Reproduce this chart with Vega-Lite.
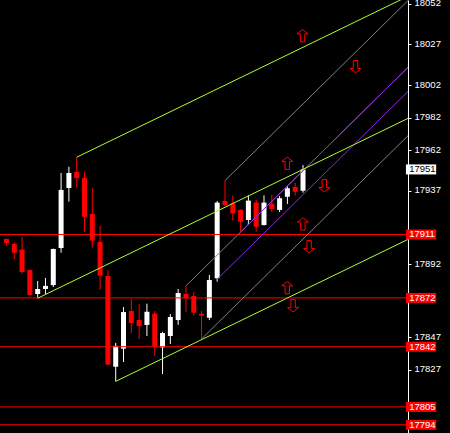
{
 "$schema": "https://vega.github.io/schema/vega-lite/v6.json",
 "width": 408,
 "height": 433,
 "autosize": {"type": "none"},
 "padding": {"left": 0, "top": 0, "right": 42, "bottom": 0},
 "background": "#000000",
 "config": {
  "view": {"stroke": null},
  "axis": {"domainColor": "#FFFFFF", "tickColor": "#FFFFFF", "labelColor": "#FFFFFF", "tickSize": 3, "labelPadding": 3, "labelFont": "Liberation Sans", "labelFontSize": 9.5, "grid": false, "domainWidth": 1, "tickWidth": 1, "tickOffset": -1.5, "labelOffset": -0.8}
 },
 "datasets": {
  "candles": [
   {"i":0,"o":17908.2,"h":17908.5,"l":17904.1,"c":17905.8},
   {"i":1,"o":17905.2,"h":17906.2,"l":17895.9,"c":17899.8},
   {"i":2,"o":17901.7,"h":17909.5,"l":17886.7,"c":17887.9},
   {"i":3,"o":17889.2,"h":17889.4,"l":17873.6,"c":17873.8},
   {"i":4,"o":17874.4,"h":17882.4,"l":17871.8,"c":17877.5},
   {"i":5,"o":17877.5,"h":17884.3,"l":17874.4,"c":17879.4},
   {"i":6,"o":17879.9,"h":17902.3,"l":17878.7,"c":17902.1},
   {"i":7,"o":17902.7,"h":17948.8,"l":17899.8,"c":17938.4},
   {"i":8,"o":17939.6,"h":17952.7,"l":17931.2,"c":17948.8},
   {"i":9,"o":17949.4,"h":17958.5,"l":17940.0,"c":17945.7},
   {"i":10,"o":17945.7,"h":17949.4,"l":17912.7,"c":17921.9},
   {"i":11,"o":17923.6,"h":17939.6,"l":17902.9,"c":17907.2},
   {"i":12,"o":17906.4,"h":17916.2,"l":17877.1,"c":17885.7},
   {"i":13,"o":17885.5,"h":17889.2,"l":17830.8,"c":17831.0},
   {"i":14,"o":17829.7,"h":17844.3,"l":17820.7,"c":17842.5},
   {"i":15,"o":17840.8,"h":17866.4,"l":17832.6,"c":17863.3},
   {"i":16,"o":17863.9,"h":17871.3,"l":17850.4,"c":17856.6},
   {"i":17,"o":17858.4,"h":17868.3,"l":17846.7,"c":17854.7},
   {"i":18,"o":17855.4,"h":17868.5,"l":17848.6,"c":17863.5},
   {"i":19,"o":17862.3,"h":17864.0,"l":17836.3,"c":17842.4},
   {"i":20,"o":17841.6,"h":17851.2,"l":17825.2,"c":17850.4},
   {"i":21,"o":17848.6,"h":17862.1,"l":17843.7,"c":17860.3},
   {"i":22,"o":17858.4,"h":17877.5,"l":17855.4,"c":17875.0},
   {"i":23,"o":17874.4,"h":17879.4,"l":17863.5,"c":17871.8},
   {"i":24,"o":17873.2,"h":17875.6,"l":17861.1,"c":17862.9},
   {"i":25,"o":17862.3,"h":17864.0,"l":17846.8,"c":17861.1},
   {"i":26,"o":17859.8,"h":17886.1,"l":17858.4,"c":17883.0},
   {"i":27,"o":17884.1,"h":17931.6,"l":17882.0,"c":17930.6},
   {"i":28,"o":17931.6,"h":17944.1,"l":17928.5,"c":17929.1},
   {"i":29,"o":17930.2,"h":17934.9,"l":17919.5,"c":17924.0},
   {"i":30,"o":17926.1,"h":17926.4,"l":17912.7,"c":17918.9},
   {"i":31,"o":17919.9,"h":17934.9,"l":17916.8,"c":17931.8},
   {"i":32,"o":17930.6,"h":17932.2,"l":17912.7,"c":17915.8},
   {"i":33,"o":17916.8,"h":17935.1,"l":17916.5,"c":17930.6},
   {"i":34,"o":17929.9,"h":17935.3,"l":17924.6,"c":17926.7},
   {"i":35,"o":17926.1,"h":17934.7,"l":17924.8,"c":17933.3},
   {"i":36,"o":17934.2,"h":17940.8,"l":17929.8,"c":17939.4},
   {"i":37,"o":17940.2,"h":17942.8,"l":17934.9,"c":17937.3},
   {"i":38,"o":17937.9,"h":17953.7,"l":17936.7,"c":17951.0}
  ],
  "lines": [
   {"id":"k1","set":"gray","i":28,"p":17944.1},{"id":"k1","set":"gray","i":60,"p":18095.2},
   {"id":"k2","set":"gray","i":25,"p":17846.8},{"id":"k2","set":"gray","i":60,"p":18012.1},
   {"id":"k3","set":"gray","i":23,"p":17879.4},{"id":"k3","set":"gray","i":60,"p":18054.1},
   {"id":"p1","set":"purple","i":30,"p":17912.5},{"id":"p1","set":"purple","i":60,"p":18054.1},
   {"id":"p2","set":"purple","i":27,"p":17883.5},{"id":"p2","set":"purple","i":60,"p":18039.3},
   {"id":"g1","set":"green","i":9,"p":17958.5},{"id":"g1","set":"green","i":60,"p":18077.4},
   {"id":"g2","set":"green","i":4,"p":17871.8},{"id":"g2","set":"green","i":60,"p":18002.3},
   {"id":"g3","set":"green","i":14,"p":17820.7},{"id":"g3","set":"green","i":60,"p":17927.9}
  ],
  "levels": [
   {"p":17911,"kind":"level"},
   {"p":17872,"kind":"level"},
   {"p":17842,"kind":"level"},
   {"p":17805,"kind":"level"},
   {"p":17794,"kind":"level"},
   {"p":17951,"kind":"bid"}
  ],
  "arrows": [
   {"i":37.94,"p":18033.2,"dir":"up"},
   {"i":44.73,"p":18014.2,"dir":"down"},
   {"i":35.98,"p":17954.8,"dir":"up"},
   {"i":40.73,"p":17941.0,"dir":"down"},
   {"i":37.98,"p":17917.5,"dir":"up"},
   {"i":38.78,"p":17903.5,"dir":"down"},
   {"i":35.98,"p":17878.3,"dir":"up"},
   {"i":36.73,"p":17867.2,"dir":"down"}
  ]
 },
 "layer": [
  {
   "data": {"name": "candles"},
   "mark": {"type": "rule", "strokeWidth": 1},
   "encoding": {
    "x": {"field": "i", "type": "quantitative", "scale": {"domain": [-0.1875, 50.8125], "nice": false, "zero": false}, "axis": null},
    "y": {"field": "l", "type": "quantitative", "scale": {"domain": [17788.95, 18055.17], "nice": false, "zero": false},
          "axis": {"orient": "right", "title": null, "values": [18052, 18027, 18002, 17982, 17962, 17937, 17892, 17847, 17827], "format": "d", "labelOverlap": false, "labelFlush": false}},
    "y2": {"field": "h"},
    "color": {"condition": {"test": "datum.c >= datum.o", "value": "#FFFFFF"}, "value": "#FF0000"}
   }
  },
  {
   "data": {"name": "candles"},
   "mark": {"type": "bar", "orient": "vertical", "width": 5},
   "encoding": {
    "x": {"field": "i", "type": "quantitative", "scale": {"domain": [-0.1875, 50.8125], "nice": false, "zero": false}, "axis": null},
    "y": {"field": "o", "type": "quantitative", "scale": {"domain": [17788.95, 18055.17], "nice": false, "zero": false},
          "axis": {"orient": "right", "title": null, "values": [18052, 18027, 18002, 17982, 17962, 17937, 17892, 17847, 17827], "format": "d", "labelOverlap": false, "labelFlush": false}},
    "y2": {"field": "c"},
    "color": {"condition": {"test": "datum.c >= datum.o", "value": "#FFFFFF"}, "value": "#FF0000"}
   }
  },
  {
   "data": {"name": "levels"},
   "transform": [{"filter": "datum.kind == 'level'"}],
   "mark": {"type": "rule", "strokeWidth": 1, "color": "#FF0000"},
   "encoding": {
    "y": {"field": "p", "type": "quantitative", "scale": {"domain": [17788.95, 18055.17], "nice": false, "zero": false},
          "axis": {"orient": "right", "title": null, "values": [18052, 18027, 18002, 17982, 17962, 17937, 17892, 17847, 17827], "format": "d", "labelOverlap": false, "labelFlush": false}}
   }
  },
  {
   "data": {"name": "lines"},
   "mark": {"type": "line", "strokeWidth": 1, "clip": true},
   "encoding": {
    "x": {"field": "i", "type": "quantitative", "scale": {"domain": [-0.1875, 50.8125], "nice": false, "zero": false}, "axis": null},
    "y": {"field": "p", "type": "quantitative", "scale": {"domain": [17788.95, 18055.17], "nice": false, "zero": false},
          "axis": {"orient": "right", "title": null, "values": [18052, 18027, 18002, 17982, 17962, 17937, 17892, 17847, 17827], "format": "d", "labelOverlap": false, "labelFlush": false}},
    "detail": {"field": "id"},
    "order": {"field": "i"},
    "color": {"field": "set", "type": "nominal", "scale": {"domain": ["gray", "purple", "green"], "range": ["#808080", "#8A2BE2", "#ADFF2F"]}, "legend": null}
   }
  },
  {
   "data": {"name": "arrows"},
   "mark": {"type": "point", "filled": false, "strokeWidth": 1, "opacity": 1, "size": 150, "color": "#FF0000"},
   "encoding": {
    "x": {"field": "i", "type": "quantitative", "scale": {"domain": [-0.1875, 50.8125], "nice": false, "zero": false}, "axis": null},
    "y": {"field": "p", "type": "quantitative", "scale": {"domain": [17788.95, 18055.17], "nice": false, "zero": false},
          "axis": {"orient": "right", "title": null, "values": [18052, 18027, 18002, 17982, 17962, 17937, 17892, 17847, 17827], "format": "d", "labelOverlap": false, "labelFlush": false}},
    "shape": {"field": "dir", "type": "nominal", "scale": {"domain": ["up", "down"], "range": ["M0,-1L0.9,-0.3L0.36,-0.3L0.36,1L-0.36,1L-0.36,-0.3L-0.9,-0.3Z", "M0,1L0.9,0.3L0.36,0.3L0.36,-1L-0.36,-1L-0.36,0.3L-0.9,0.3Z"]}, "legend": null}
   }
  },
  {
   "data": {"name": "levels"},
   "mark": {"type": "rule", "strokeWidth": 10, "strokeCap": "butt"},
   "encoding": {
    "x": {"datum": 51.1875, "type": "quantitative", "scale": {"domain": [-0.1875, 50.8125], "nice": false, "zero": false}, "axis": null},
    "x2": {"datum": 55.0625},
    "y": {"field": "p", "type": "quantitative", "scale": {"domain": [17788.95, 18055.17], "nice": false, "zero": false},
          "axis": {"orient": "right", "title": null, "values": [18052, 18027, 18002, 17982, 17962, 17937, 17892, 17847, 17827], "format": "d", "labelOverlap": false, "labelFlush": false}},
    "color": {"condition": {"test": "datum.kind == 'bid'", "value": "#FFFFFF"}, "value": "#FF0000"}
   }
  },
  {
   "data": {"name": "levels"},
   "mark": {"type": "text", "align": "left", "baseline": "middle", "font": "Liberation Sans", "fontSize": 9.5},
   "encoding": {
    "x": {"datum": 51.6, "type": "quantitative", "scale": {"domain": [-0.1875, 50.8125], "nice": false, "zero": false}, "axis": null},
    "y": {"field": "p", "type": "quantitative", "scale": {"domain": [17788.95, 18055.17], "nice": false, "zero": false},
          "axis": {"orient": "right", "title": null, "values": [18052, 18027, 18002, 17982, 17962, 17937, 17892, 17847, 17827], "format": "d", "labelOverlap": false, "labelFlush": false}},
    "text": {"field": "p", "type": "quantitative", "format": "d"},
    "color": {"condition": {"test": "datum.kind == 'bid'", "value": "#000000"}, "value": "#FFFFFF"}
   }
  }
 ]
}
